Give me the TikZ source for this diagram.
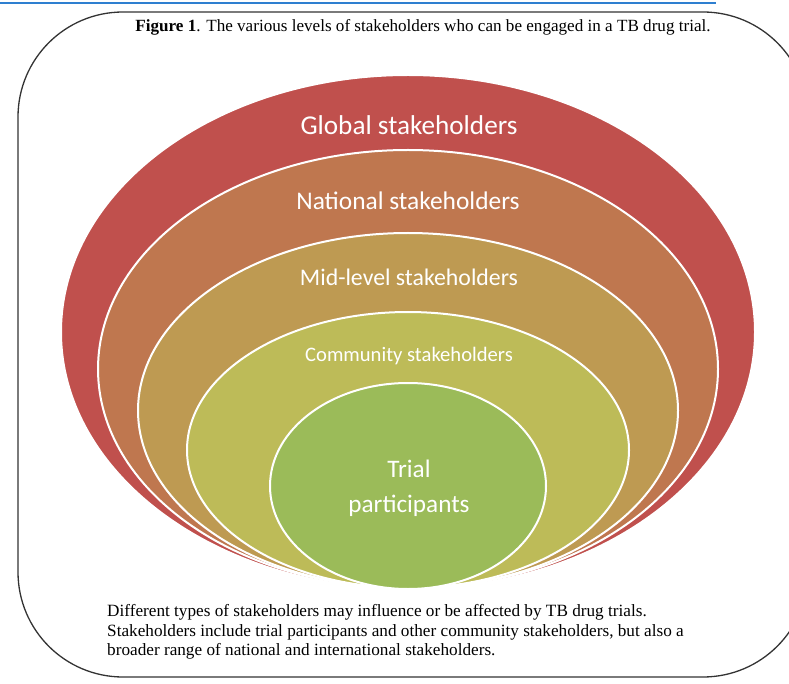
\documentclass[tikz,border=0pt]{standalone}
\usepackage{fontspec}
\setmainfont{Liberation Serif}
\newfontfamily\ringfont{Carlito}
\usetikzlibrary{positioning}
\definecolor{ruleblue}{HTML}{2E7FD0}
\definecolor{globalred}{HTML}{C0504D}
\definecolor{nationalbrown}{HTML}{BF774F}
\definecolor{midochre}{HTML}{BE9A52}
\definecolor{communityolive}{HTML}{BDBB58}
\definecolor{trialgreen}{HTML}{9BBB59}

\tikzset{
  ringlabel/.style={text=white, font=\ringfont, inner sep=0pt, align=center},
  captext/.style={anchor=west, inner sep=0pt, font=\fontsize{17.2}{19}\selectfont}
}

\begin{document}
\begin{tikzpicture}[x=1pt,y=-1pt]
    \useasboundingbox (0,0) rectangle (789,684);

    % Rule across the top of the page
    \draw[line width=1.2pt, ruleblue] (0,3) -- (716,3);

    % Rounded frame round the figure
    \draw[line width=1.3pt, black!80, rounded corners=105pt] (18,12) rectangle (808,677);

    % Title
    \node[inner sep=0pt, font=\fontsize{17.1}{19}\selectfont] (title) at (423,27)
        {\textbf{Figure 1}. The various levels of stakeholders who can be engaged in a TB drug trial.};

    % Stakeholder rings, outermost first
    \foreach \col/\cy/\rx/\ry in {globalred/332/347/257, nationalbrown/369/310/219,
                                  midochre/410.5/270/177.5, communityolive/450/221/138,
                                  trialgreen/486/138/103} {
        \filldraw[fill=\col, draw=white, line width=2pt] (408,\cy) ellipse ({\rx} and {\ry});
    }

    % Ring labels
    \node[ringlabel, font=\ringfont\fontsize{27.2}{30}\selectfont] (global) at (409,125) {Global stakeholders};
    \node[ringlabel, font=\ringfont\fontsize{25.4}{28}\selectfont] (national) at (408,201) {National stakeholders};
    \node[ringlabel, font=\ringfont\fontsize{23.8}{26}\selectfont] (midlevel) at (409,277) {Mid-level stakeholders};
    \node[ringlabel, font=\ringfont\fontsize{20.6}{23}\selectfont] (community) at (409,356) {Community stakeholders};
    \node[ringlabel, font=\ringfont\fontsize{25.2}{35}\selectfont] (trial) at (409,488) {Trial\\participants};

    % Caption underneath
    \node[captext] (cap1) at (107,612) {Different types of stakeholders may influence or be affected by TB drug trials.};
    \node[captext] (cap2) at (107,632) {Stakeholders include trial participants and other community stakeholders, but also a};
    \node[captext] (cap3) at (107,651) {broader range of national and international stakeholders.};
\end{tikzpicture}
\end{document}
